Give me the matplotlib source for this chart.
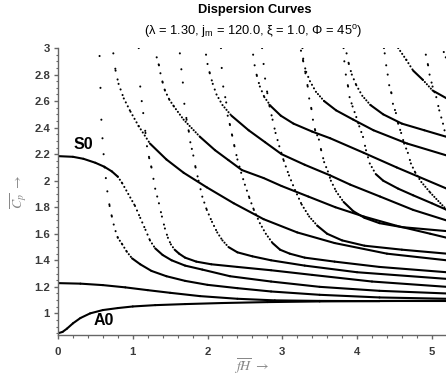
import numpy as np
import matplotlib
matplotlib.use('Agg')
import matplotlib.pyplot as plt

plt.rcParams['font.family'] = ['Liberation Sans', 'DejaVu Sans']
plt.rcParams['mathtext.fontset'] = 'custom'
plt.rcParams['mathtext.rm'] = 'Liberation Sans'
plt.rcParams['mathtext.it'] = 'Liberation Sans:italic'

"""#################DATA (read off the picture)#################"""
# fundamental modes
a0_x = [0, 0.06, 0.12, 0.2, 0.3, 0.43, 0.6, 0.8, 1.0, 1.3, 1.7, 2.2, 2.8, 3.5, 4.3, 5.2]
a0_y = [0.85, 0.86, 0.885, 0.925, 0.965, 1.0, 1.025, 1.04, 1.052, 1.062, 1.07, 1.078, 1.085, 1.09, 1.093, 1.095]

sh0_x = [0, 0.3, 0.6, 0.9, 1.2, 1.5, 1.9, 2.4, 2.9, 3.5, 4.3, 5.2]
sh0_y = [1.228, 1.224, 1.213, 1.196, 1.175, 1.155, 1.13, 1.11, 1.098, 1.094, 1.092, 1.092]

s0_x = [0, 0.2, 0.34, 0.5, 0.62, 0.72, 0.8, 0.86, 0.94, 1.03, 1.10, 1.17, 1.23, 1.30, 1.40,
        1.52, 1.7, 1.93, 2.3, 2.85, 3.5, 4.3, 5.2]
s0_y = [2.185, 2.18, 2.165, 2.135, 2.105, 2.07, 2.03, 1.98, 1.90, 1.81, 1.72, 1.63, 1.55, 1.49, 1.44,
        1.40, 1.36, 1.33, 1.28, 1.24, 1.20, 1.17, 1.15]

# higher modes, steep branch
b1_x = [0.556, 0.568, 0.58, 0.595, 0.61, 0.625, 0.64, 0.66, 0.69, 0.72, 0.745, 0.77, 0.80, 0.86,
        0.92, 0.99, 1.1, 1.25, 1.45, 1.7, 2.0, 2.4, 2.85, 3.5, 4.3, 5.2]
b1_y = [2.94, 2.70, 2.46, 2.32, 2.20, 2.10, 2.02, 1.92, 1.81, 1.73, 1.67, 1.62, 1.57, 1.52,
        1.465, 1.415, 1.37, 1.32, 1.28, 1.245, 1.215, 1.19, 1.165, 1.14, 1.12, 1.11]

b2_x = [1.08, 1.10, 1.12, 1.14, 1.17, 1.19, 1.22, 1.25, 1.30, 1.35, 1.39, 1.43, 1.47, 1.51, 1.56,
        1.62, 1.70, 1.85, 2.05, 2.4, 2.85, 3.4, 4.2, 5.2]
b2_y = [3.0, 2.71, 2.60, 2.51, 2.36, 2.26, 2.17, 2.10, 1.94, 1.83, 1.73, 1.64, 1.57, 1.52, 1.48,
        1.45, 1.42, 1.39, 1.37, 1.35, 1.325, 1.29, 1.24, 1.20]

b3_x = [1.63, 1.65, 1.67, 1.69, 1.72, 1.75, 1.77, 1.79, 1.81, 1.84, 1.88, 1.93, 1.99, 2.06, 2.13,
        2.20, 2.28, 2.40, 2.60, 2.85, 3.3, 4.0, 5.2]
b3_y = [2.96, 2.84, 2.74, 2.58, 2.46, 2.37, 2.29, 2.24, 2.19, 2.10, 2.0, 1.88, 1.78, 1.69, 1.61,
        1.55, 1.50, 1.46, 1.43, 1.40, 1.36, 1.31, 1.26]

b4_x = [2.18, 2.19, 2.21, 2.25, 2.27, 2.30, 2.33, 2.36, 2.40, 2.45, 2.50, 2.56, 2.62, 2.70, 2.78,
        2.87, 2.97, 3.1, 3.3, 3.7, 4.3, 5.2]
b4_y = [3.0, 2.85, 2.71, 2.59, 2.49, 2.42, 2.34, 2.26, 2.16, 2.06, 1.97, 1.87, 1.78, 1.68, 1.60,
        1.53, 1.48, 1.45, 1.42, 1.39, 1.35, 1.31]

b5_x = [2.73, 2.75, 2.77, 2.80, 2.83, 2.87, 2.91, 2.96, 3.02, 3.09, 3.17, 3.26, 3.36, 3.47, 3.6,
        3.8, 4.1, 4.6, 5.2]
b5_y = [3.0, 2.88, 2.77, 2.66, 2.56, 2.46, 2.36, 2.26, 2.15, 2.04, 1.93, 1.82, 1.73, 1.66, 1.60,
        1.55, 1.51, 1.48, 1.45]

b6_x = [3.27, 3.28, 3.31, 3.34, 3.36, 3.39, 3.41, 3.44, 3.49, 3.52, 3.56, 3.61, 3.65, 3.72, 3.82,
        3.95, 4.1, 4.3, 4.6, 5.2]
b6_y = [3.0, 2.92, 2.81, 2.71, 2.62, 2.54, 2.46, 2.38, 2.31, 2.23, 2.14, 2.07, 2.0, 1.92, 1.84,
        1.77, 1.72, 1.68, 1.65, 1.62]

b7_x = [3.82, 3.83, 3.85, 3.88, 3.90, 3.94, 3.99, 4.03, 4.08, 4.12, 4.17, 4.25, 4.35, 4.55, 4.75,
        5.0, 5.2]
b7_y = [3.0, 2.90, 2.80, 2.71, 2.63, 2.56, 2.48, 2.41, 2.33, 2.23, 2.13, 2.05, 2.0, 1.94, 1.89,
        1.83, 1.78]

b8_x = [4.36, 4.37, 4.39, 4.41, 4.43, 4.46, 4.48, 4.52, 4.55, 4.59, 4.63, 4.68, 4.72, 4.78, 4.86,
        4.98, 5.2]
b8_y = [3.0, 2.96, 2.87, 2.80, 2.72, 2.66, 2.58, 2.51, 2.43, 2.36, 2.28, 2.21, 2.13, 2.06, 1.99,
        1.91, 1.78]

b9_x = [4.92, 4.95, 4.97, 5.01, 5.06, 5.10, 5.15, 5.17, 5.2]
b9_y = [2.95, 2.87, 2.80, 2.71, 2.63, 2.53, 2.43, 2.38, 2.33]

# higher modes, shallow branch
a1_x = [0.74, 0.77, 0.81, 0.88, 0.97, 1.08, 1.23, 1.45, 1.68, 1.99, 2.35, 2.75, 3.2, 3.7, 4.4, 5.2]
a1_y = [2.96, 2.83, 2.73, 2.62, 2.52, 2.41, 2.28, 2.16, 2.06, 1.95, 1.83, 1.71, 1.61, 1.53, 1.45, 1.40]

a2_x = [1.32, 1.35, 1.37, 1.40, 1.43, 1.49, 1.55, 1.68, 1.90, 2.10, 2.28, 2.46, 2.75, 2.99, 3.35,
        3.71, 4.09, 4.53, 4.98, 5.2]
a2_y = [2.93, 2.87, 2.81, 2.74, 2.68, 2.61, 2.56, 2.46, 2.33, 2.23, 2.155, 2.08, 2.02, 1.96, 1.88,
        1.80, 1.73, 1.66, 1.60, 1.57]

a3_x = [1.98, 2.00, 2.03, 2.07, 2.12, 2.20, 2.32, 2.55, 2.77, 2.99, 3.3, 3.64, 3.91, 4.31, 4.75, 5.2]
a3_y = [2.95, 2.88, 2.81, 2.73, 2.65, 2.57, 2.49, 2.38, 2.29, 2.20, 2.12, 2.04, 1.97, 1.88, 1.78, 1.70]

a4_x = [2.61, 2.63, 2.66, 2.70, 2.76, 2.85, 2.98, 3.15, 3.40, 3.64, 4.09, 4.53, 5.2]
a4_y = [2.95, 2.87, 2.79, 2.71, 2.63, 2.56, 2.49, 2.43, 2.37, 2.32, 2.21, 2.10, 1.94]

a5_x = [3.25, 3.28, 3.32, 3.37, 3.45, 3.56, 3.72, 3.95, 4.22, 4.67, 5.2]
a5_y = [2.98, 2.90, 2.82, 2.75, 2.67, 2.60, 2.53, 2.46, 2.38, 2.28, 2.19]

a6_x = [3.86, 3.89, 3.93, 3.99, 4.07, 4.18, 4.35, 4.60, 4.9, 5.2]
a6_y = [2.96, 2.88, 2.80, 2.72, 2.64, 2.57, 2.50, 2.43, 2.38, 2.33]

a7_x = [4.55, 4.66, 4.75, 4.88, 5.01, 5.2]
a7_y = [3.0, 2.91, 2.83, 2.76, 2.68, 2.62]

a8_x = [5.16, 5.2]
a8_y = [2.97, 2.91]

curves = [(a0_x, a0_y), (sh0_x, sh0_y), (s0_x, s0_y),
          (b1_x, b1_y), (b2_x, b2_y), (b3_x, b3_y), (b4_x, b4_y), (b5_x, b5_y),
          (b6_x, b6_y), (b7_x, b7_y), (b8_x, b8_y), (b9_x, b9_y),
          (a1_x, a1_y), (a2_x, a2_y), (a3_x, a3_y), (a4_x, a4_y), (a5_x, a5_y),
          (a6_x, a6_y), (a7_x, a7_y), (a8_x, a8_y)]

"""#################FIGURE#################"""
W, H = 446, 383
fig = plt.figure(figsize=(W/100, H/100), dpi=100)
ax = fig.add_axes([58/W, 48/H, (W-58)/W, 287/H])
ax.set_xlim(0, 5.19)
ax.set_ylim(0.837, 3.0)

# pixel scale, used to make steep parts dotted like the original sampled curves
px_x = (W-58)/5.19
px_y = 287/(3.0-0.837)
LW = 1.5
step = 2.0   # px between samples along x in the original

def draw_curve(xs, ys):
    for i in range(len(xs)-1):
        dxp = (xs[i+1]-xs[i])*px_x
        dyp = (ys[i+1]-ys[i])*px_y
        gap = step*np.hypot(dxp, dyp)/max(dxp, 1e-6)
        seg_x = xs[i:i+2]
        seg_y = ys[i:i+2]
        if gap < 2.8:
            ax.plot(seg_x, seg_y, color='black', lw=LW, solid_capstyle='round')
        else:
            period = gap*0.72/LW
            ax.plot(seg_x, seg_y, color='black', lw=LW,
                    linestyle=(0, (0.05, period-0.05)), dash_capstyle='round')

for cx, cy in curves:
    draw_curve(cx, cy)

ax.text(0.34, 2.27, 'S0', fontsize=11.5, fontweight='bold', ha='center', va='center')
ax.text(0.61, 0.945, 'A0', fontsize=11.5, fontweight='bold', ha='center', va='center')

# axes styling
for side in ['top', 'right']:
    ax.spines[side].set_visible(False)
for side in ['left', 'bottom']:
    ax.spines[side].set_color('#666666')
    ax.spines[side].set_linewidth(1.0)

ax.set_xticks([0, 1, 2, 3, 4, 5])
ax.set_xticks(np.arange(0, 5.2, 0.2), minor=True)
ax.set_yticks([1, 1.2, 1.4, 1.6, 1.8, 2, 2.2, 2.4, 2.6, 2.8, 3])
ax.set_yticks(np.arange(0.85, 3.0, 0.05), minor=True)
ax.set_yticklabels(['1', '1.2', '1.4', '1.6', '1.8', '2', '2.2', '2.4', '2.6', '2.8', '3'])
ax.tick_params(which='major', length=3.2, width=1.0, color='#666666')
ax.tick_params(which='minor', length=1.8, width=0.8, color='#666666')
ax.tick_params(axis='x', which='major', pad=5.5)
ax.tick_params(axis='y', which='major', pad=2.5)
for lab in ax.get_xticklabels() + ax.get_yticklabels():
    lab.set_fontweight('bold')
    lab.set_fontsize(8.2)
    lab.set_color('#3a3a3a')

ax.set_xlabel(r'$\overline{fH}$ $\rightarrow$', fontsize=10, color='#888888',
              math_fontfamily='stix', labelpad=0)
ax.set_ylabel(r'$\overline{C_p}$ $\rightarrow$', fontsize=10, color='#888888',
              math_fontfamily='stix', labelpad=4)

fig.text(255/W, 1-10/H, 'Dispersion Curves', ha='center', va='center',
         fontsize=9.3, fontweight='bold')
fig.text(253/W, 1-32/H, '(λ = 1.30, j$_\\mathrm{m}$ = 120.0, ξ = 1.0, Φ = 45$^\\mathrm{o}$)',
         ha='center', va='center', fontsize=9.3)

fig.savefig('out.png', dpi=100)
